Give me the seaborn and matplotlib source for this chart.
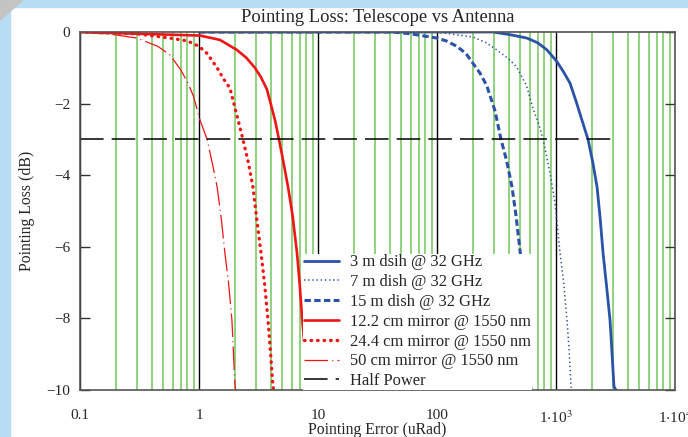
import pandas as pd
import seaborn as sns
import matplotlib.pyplot as plt
from matplotlib.patches import Rectangle, Polygon
from matplotlib.ticker import FixedLocator, LogLocator, NullFormatter

# pointing error (uRad) vs loss (dB)
dish3_x = [1, 100, 296, 420, 570, 700, 840, 1019, 1150, 1312, 1480, 1652, 1858,
           2040, 2213, 2350, 2485, 2660, 2843, 2960, 3069, 3190]
dish3_y = [0, 0, 0, -0.08, -0.17, -0.3, -0.5, -0.83, -1.1, -1.43, -1.95, -2.46, -3.0,
           -3.65, -4.33, -5.2, -6.17, -7.1, -8.04, -9.0, -9.9, -10]

dish7_x = [1, 100, 200, 260, 317, 400, 466, 565, 636, 720, 778, 880, 982, 1081,
           1160, 1237, 1290, 1336, 1360]
dish7_y = [0, 0, -0.14, -0.3, -0.5, -0.75, -0.97, -1.5, -2.1, -2.6, -3.0, -3.85, -4.78,
           -6.17, -7.0, -8.04, -8.9, -9.9, -10]

dish15_x = [1, 42.7, 60, 100, 120, 147, 175, 200, 230, 262, 307, 345, 385, 427,
            460, 498, 550, 615]
dish15_y = [0, 0, -0.05, -0.17, -0.25, -0.4, -0.6, -0.87, -1.15, -1.5, -2.2, -3.0,
            -3.6, -4.33, -5.1, -6.09, -7.5, -10]

mir12_x = [0.1, 1.02, 1.5, 2.08, 2.5, 2.95, 3.3, 3.72, 4.0, 4.35, 4.70, 5.1, 5.6,
           6.1, 6.66, 7.0, 7.34, 8.3]
mir12_y = [0, -0.1, -0.22, -0.5, -0.72, -1.0, -1.25, -1.6, -2.0, -2.46, -3.0, -3.6,
           -4.33, -5.1, -6.17, -7.0, -7.96, -10]

mir24_x = [0.1, 0.3, 0.57, 0.8, 1.0, 1.17, 1.42, 1.6, 1.82, 2.13, 2.34, 2.6, 2.84,
           3.05, 3.32, 3.55, 3.80, 4.0, 4.18, 4.25]
mir24_y = [0, -0.05, -0.17, -0.25, -0.4, -0.6, -1.0, -1.3, -1.57, -2.46, -3.0, -3.65,
           -4.33, -5.2, -6.17, -7.0, -8.04, -9.0, -9.9, -10]

mir50_x = [0.1, 0.2, 0.3, 0.45, 0.57, 0.7, 0.8, 0.9, 1.02, 1.17, 1.3, 1.42, 1.55,
           1.65, 1.77, 1.89, 1.95, 2.0, 2.03]
mir50_y = [0, -0.08, -0.17, -0.4, -0.64, -1.05, -1.4, -1.8, -2.46, -3.0, -3.7, -4.33,
           -5.3, -6.17, -7.0, -8.04, -9.0, -9.8, -10]

half_x = [0.1, 3130]
half_y = [-3, -3]

labels = ['3 m dsih @ 32 GHz', '7 m dish @ 32 GHz', '15 m dish @ 32 GHz',
          '12.2 cm mirror @ 1550 nm', '24.4 cm mirror @ 1550 nm',
          '50 cm mirror @ 1550 nm', 'Half Power']
x_ticks = [0.1, 1, 10, 100, 1000, 10000]
x_ticklabels = ['0.1', '1', '10', '100', r'1$\cdot$10$^{3}$', r'1$\cdot$10$^{4}$']
y_ticks = [0, -2, -4, -6, -8, -10]

BLUE = '#2a52a8'
RED = '#f01414'
GREEN = '#86cf72'


def plot():
    sns.set_theme(style="white")
    plt.rcParams['font.family'] = ['Liberation Serif', 'DejaVu Serif']
    plt.rcParams['mathtext.fontset'] = 'stix'
    plt.rcParams['lines.scale_dashes'] = False

    fig = plt.figure(figsize=(6.88, 4.37), dpi=100)
    fig.patch.set_facecolor('white')
    # light blue frame strips + grey corner
    fig.add_artist(Rectangle((0, 1 - 7 / 437), 1, 7 / 437, transform=fig.transFigure,
                             color='#b6ddf4', zorder=-1))
    fig.add_artist(Rectangle((0, 0), 10 / 688, 1, transform=fig.transFigure,
                             color='#b6ddf4', zorder=-1))
    fig.add_artist(Polygon([(0, 1), (23 / 688, 1), (0, 1 - 20 / 437)], closed=True,
                           transform=fig.transFigure, color='#c4c4c4', zorder=0))

    ax = fig.add_axes([80 / 688, 1 - 390 / 437, 595 / 688, 358 / 437])
    ax.set_xscale('log')

    series = [
        (dish3_x, dish3_y, BLUE, 2.0, None),
        (dish7_x, dish7_y, BLUE, 1.1, (1.0, 2.0)),
        (dish15_x, dish15_y, BLUE, 2.2, (4.6, 2.4)),
        (mir12_x, mir12_y, RED, 1.9, None),
        (mir24_x, mir24_y, RED, 2.4, (0.4, 4.3)),
        (mir50_x, mir50_y, RED, 0.9, (17.0, 3.0, 0.8, 3.0)),
        (half_x, half_y, 'black', 1.1, (17.0, 5.8)),
    ]
    for (xs, ys, col, lw, dash), lab in zip(series, labels):
        df = pd.DataFrame({'err': xs, 'loss': ys})
        sns.lineplot(data=df, x='err', y='loss', ax=ax, color=col, linewidth=lw,
                     label=lab, sort=False, estimator=None)
        if dash is not None:
            ax.lines[-1].set_dashes(dash)
    ax.lines[4].set_dash_capstyle('round')

    ax.set_xlim(0.1, 10000)
    ax.set_ylim(-10, 0)

    ax.xaxis.set_major_locator(FixedLocator(x_ticks))
    ax.set_xticklabels(x_ticklabels, fontsize=11)
    ax.xaxis.set_minor_locator(LogLocator(base=10, subs=range(2, 10), numticks=20))
    ax.xaxis.set_minor_formatter(NullFormatter())
    ax.set_yticks(y_ticks)
    ax.set_yticklabels([str(t).replace('-', '\u2212') for t in y_ticks], fontsize=11)

    ax.grid(True, which='minor', axis='x', color=GREEN, linewidth=1.3)
    ax.grid(True, which='major', axis='x', color='black', linewidth=1.0)
    ax.grid(False, axis='y')
    ax.set_axisbelow(True)

    ax.tick_params(axis='x', which='both', length=0, pad=14)
    ax.tick_params(axis='y', which='major', direction='in', length=7, width=1,
                   left=True, right=True, color='#333333', pad=7)
    for s in ax.spines.values():
        s.set_color('#555555')
        s.set_linewidth(1.2)

    ax.set_title('Pointing Loss: Telescope vs Antenna', fontsize=13.3, pad=7)
    ax.set_xlabel('Pointing Error (uRad)', fontsize=11.3, labelpad=-3)
    ax.set_ylabel('Pointing Loss (dB)', fontsize=11.3, labelpad=8)

    leg = ax.legend(loc='lower left', bbox_to_anchor=(0.375, 0.0), fontsize=11.9,
                    frameon=True, fancybox=False, framealpha=1, edgecolor='none',
                    facecolor='white', borderaxespad=0.0, borderpad=0.05,
                    labelspacing=0.23, handlelength=2.1, handletextpad=0.7)
    leg.get_frame().set_linewidth(0)

    fig.savefig('out.png', dpi=100)


plot()
